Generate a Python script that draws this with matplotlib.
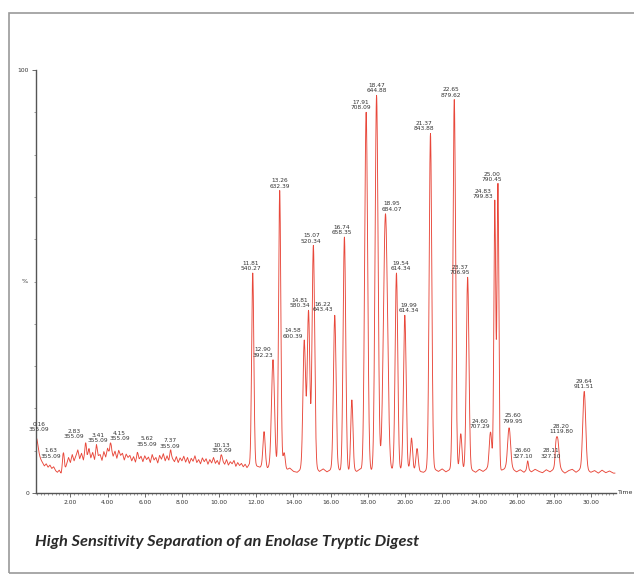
import numpy as np
import matplotlib.pyplot as plt
from matplotlib.patches import Rectangle
from matplotlib.ticker import MultipleLocator, FixedLocator
import matplotlib.transforms as mtransforms

# Baseline (% of max): every 0.1 min up to 12.0, then every 0.2 min
early_t = np.round(np.arange(0.2, 12.05, 0.1), 2)
early_pct = [
    9.5, 8.6, 7.9, 7.2, 6.4, 6.9, 6.1, 6.6, 5.8, 6.2,
    5.3, 4.9, 5.4, 4.6, 5.8, 5.1, 6.9, 8.4, 7.2, 9.1,
    7.6, 8.8, 10.2, 8.1, 9.4, 7.8, 9.9, 8.6, 10.5, 8.3,
    9.6, 7.9, 10.4, 8.8, 9.1, 7.7, 9.8, 8.5, 10.6, 9.2,
    10.3, 8.7, 9.9, 8.2, 10.1, 8.9, 9.4, 7.8, 9.2, 8.4,
    8.9, 7.6, 8.6, 7.3, 9.0, 8.0, 8.7, 7.4, 8.8, 7.9,
    8.5, 7.2, 9.1, 7.8, 8.4, 7.1, 8.9, 8.0, 9.3, 7.6,
    8.8, 7.5, 9.2, 8.1, 7.4, 8.6, 7.2, 8.3, 7.6, 8.7,
    7.3, 8.4, 7.0, 8.2, 7.5, 8.8, 7.2, 7.9, 6.9, 8.3,
    7.4, 8.1, 6.8, 7.9, 7.1, 8.4, 7.0, 7.7, 6.7, 8.2,
    7.5, 6.8, 7.9, 6.6, 7.4, 6.9, 7.7, 6.3, 7.2, 6.5,
    7.0, 6.2, 6.8, 6.0, 6.6, 6.1, 6.7, 5.9, 6.4,
]
late_t = np.round(np.arange(12.2, 31.21, 0.2), 2)
late_pct = [
    6.1, 6.7, 5.9, 6.5, 5.7, 6.3, 5.8, 5.4, 5.9, 5.1,
    4.9, 5.6, 5.0, 5.7, 5.2, 5.9, 5.1, 5.7, 5.0, 5.5,
    5.1, 5.7, 4.9, 5.5, 5.0, 5.6, 5.1, 5.7, 4.9, 5.4,
    5.2, 4.9, 5.7, 5.1, 5.6, 5.0, 5.7, 5.1, 5.5, 4.9,
    5.6, 5.0, 5.7, 5.1, 4.9, 5.5, 5.0, 5.6, 5.1, 5.7,
    5.0, 5.5, 4.9, 5.6, 5.1, 5.7, 5.0, 5.4, 4.9, 5.6,
    5.1, 5.7, 5.0, 5.5, 4.9, 5.4, 5.8, 5.1, 5.6, 5.0,
    5.5, 4.9, 5.7, 5.0, 5.6, 5.1, 4.8, 5.5, 5.0, 5.6,
    4.9, 5.4, 4.7, 5.3, 5.6, 4.9, 5.5, 4.8, 5.4, 4.9,
    5.3, 4.7, 5.4, 4.8, 5.2, 4.7,
]
base_t = np.concatenate([early_t, late_t])
base_pct = np.array(early_pct + late_pct)

# Labelled peaks: retention time, apex height (%), m/z
peak_rt = [0.16, 1.63, 2.83, 3.41, 4.15, 5.62, 7.37, 10.13,
           11.81, 12.90, 13.26, 14.58, 14.81, 15.07, 16.22, 16.74,
           17.91, 18.47, 18.95, 19.54, 19.99, 21.37, 22.65, 23.37,
           24.60, 24.83, 25.00, 25.60, 26.60, 28.11, 28.20, 29.64]
peak_height = [13.0, 9.5, 11.8, 11.3, 11.8, 9.5, 10.0, 9.0,
               52.0, 31.5, 71.5, 36.0, 43.0, 58.5, 42.0, 60.5,
               90.0, 94.0, 66.0, 52.0, 42.0, 85.0, 93.0, 51.0,
               14.4, 69.0, 73.0, 15.4, 7.6, 7.6, 13.0, 24.0]
peak_mz = ["355.09", "355.09", "355.09", "355.09", "355.09", "355.09", "355.09", "355.09",
           "540.27", "392.23", "632.39", "600.39", "580.34", "520.34", "643.43", "658.35",
           "708.09", "644.88", "684.07", "614.34", "614.34", "843.88", "879.62", "706.95",
           "707.29", "799.83", "790.45", "799.95", "327.10", "327.10", "1119.80", "911.51"]
peak_width = [0.10, 0.05, 0.04, 0.04, 0.04, 0.04, 0.04, 0.04,
              0.06, 0.08, 0.06, 0.07, 0.07, 0.07, 0.07, 0.07,
              0.08, 0.08, 0.11, 0.07, 0.07, 0.07, 0.07, 0.07,
              0.07, 0.05, 0.05, 0.08, 0.04, 0.04, 0.08, 0.08]

# Unlabelled minor peaks
minor_rt = [12.42, 13.50, 17.14, 20.35, 20.65, 23.00]
minor_height = [14.5, 9.5, 22.0, 13.0, 10.5, 14.0]

# label nudges in pixels (dx, dy) to keep labels apart like the original
label_nudge = {0.16: (3, 4), 1.63: (-13, -8), 2.83: (-12, 2), 3.41: (1, 0), 4.15: (9, 0),
               5.62: (9, 4), 11.81: (-2, 0), 12.90: (-10, 0), 14.58: (-11, 0),
               14.81: (-9, 1), 15.07: (-2, 0), 16.22: (-12, 1), 16.74: (-3, 0),
               17.91: (-5, 0), 18.95: (6, 0), 19.54: (4, 0), 19.99: (4, 0),
               21.37: (-7, 0), 22.65: (-3, 0), 23.37: (-8, 0), 24.60: (-11, 1),
               24.83: (-12, 0), 25.00: (-6, 0), 25.60: (4, 2), 26.60: (-5, 0),
               28.11: (-5, 0), 28.20: (4, 2)}

t = np.arange(0.15, 31.30, 0.01)
y = np.interp(t, base_t, base_pct)
for rt, h, w in zip(peak_rt + minor_rt, peak_height + minor_height,
                    peak_width + [0.06] * len(minor_rt)):
    amp = h - np.interp(rt, base_t, base_pct)
    y = y + amp * np.exp(-0.5 * ((t - rt) / w) ** 2)

fig = plt.figure(figsize=(6.34, 5.79), dpi=100)
W, H = 634, 579
ax = fig.add_axes([36 / W, 1 - 493 / H, (616 - 36) / W, (493 - 70) / H])
ax.plot(t, y, color='#e8473a', lw=0.65)
ax.set_xlim(0.15, 31.35)
ax.set_ylim(0, 100)

for s in ['top', 'right']:
    ax.spines[s].set_visible(False)
for s in ['left', 'bottom']:
    ax.spines[s].set_color('#555555')
    ax.spines[s].set_linewidth(1.0)

ax.xaxis.set_major_locator(FixedLocator(np.arange(2, 31, 2)))
ax.xaxis.set_minor_locator(MultipleLocator(0.2))
ax.set_xticklabels([f"{v:.2f}" for v in np.arange(2, 31, 2)])
ax.yaxis.set_major_locator(FixedLocator([0, 100]))
ax.yaxis.set_minor_locator(MultipleLocator(10))
ax.tick_params(axis='both', which='major', labelsize=4.3, colors='#555555',
               labelcolor='#333333', length=3, width=0.6, pad=2)
ax.tick_params(axis='both', which='minor', colors='#777777', length=1.6, width=0.5)

trans = mtransforms.blended_transform_factory(ax.transAxes, ax.transData)
ax.text(-0.014, 50, '%', transform=trans, ha='right', va='center', fontsize=4.6, color='#333333')
ax.text(1.003, 0, 'Time', transform=ax.transAxes, ha='left', va='center', fontsize=4.5, color='#333333')

for rt, h, mz in zip(peak_rt, peak_height, peak_mz):
    dx, dy = label_nudge.get(rt, (0, 0))
    ax.annotate(f"{rt:.2f}\n{mz}", xy=(rt, h), xytext=(dx, 2 + dy),
                textcoords='offset pixels', ha='center', va='bottom',
                fontsize=4.2, linespacing=1.1, color='#333333', annotation_clip=False)

fig.patches.append(Rectangle((9 / W, 1 - 573 / H), (W - 9 + 5) / W, (573 - 13) / H,
                             transform=fig.transFigure, fill=False, ec='#9a9a9a', lw=1.2))

caption = "High Sensitivity Separation of an Enolase Tryptic Digest"
cap = fig.text(35 / W, 1 - 546 / H, caption, family=['Lato', 'DejaVu Sans'],
               fontweight='bold', fontstyle='italic', fontsize=11.5, color='#2a2a2a', va='baseline')
r = fig.canvas.get_renderer()
wpx = cap.get_window_extent(r).width
cap.set_fontsize(11.5 * 383 / wpx)

fig.savefig('out.png', dpi=100)
